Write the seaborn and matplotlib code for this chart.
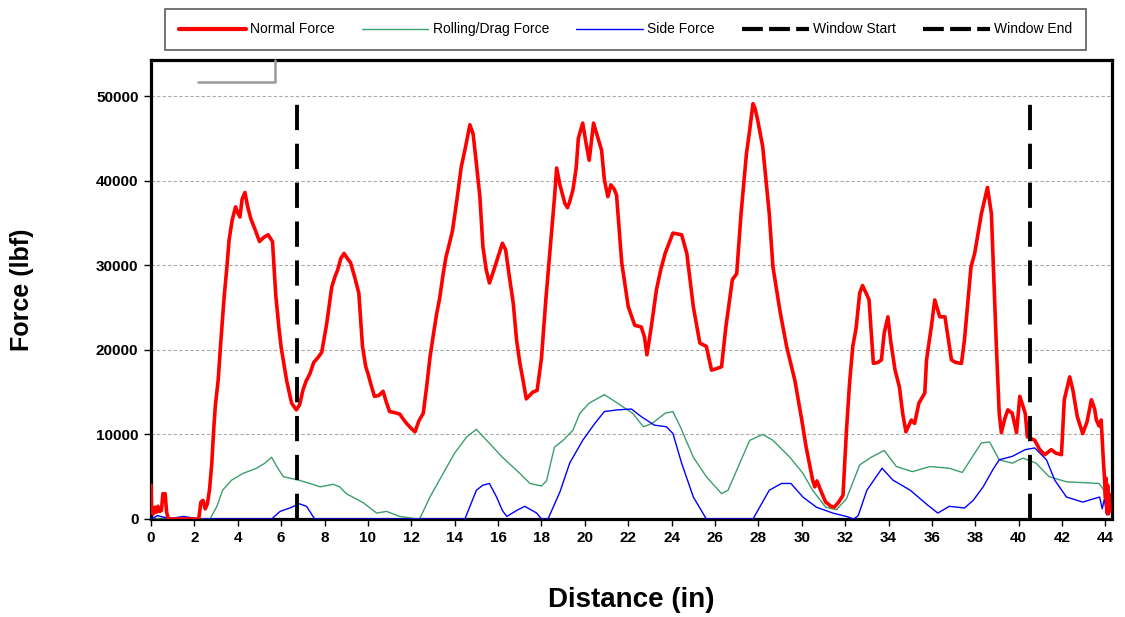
import matplotlib
matplotlib.use("Agg")
import matplotlib.pyplot as plt
import seaborn as sns
import pandas as pd
from matplotlib.lines import Line2D

# ---------------- data ----------------
normal_x = [0.0, 0.03, 0.1, 0.18, 0.25, 0.32, 0.4, 0.48, 0.55, 0.6, 0.65, 0.72, 0.8, 2.2, 2.3, 2.4, 2.5, 2.6,
            2.7, 2.8, 2.9, 2.97, 3.1, 3.2, 3.37, 3.5, 3.6, 3.74, 3.9, 4.0, 4.1, 4.2, 4.33, 4.45, 4.6, 4.8,
            5.0, 5.2, 5.4, 5.6, 5.75, 5.9, 6.0, 6.25, 6.48, 6.7, 6.85, 7.0, 7.15, 7.33, 7.5, 7.7, 7.87,
            8.1, 8.33, 8.5, 8.6, 8.75, 8.9, 9.05, 9.2, 9.4, 9.58, 9.75, 9.9, 10.0, 10.15, 10.3, 10.5,
            10.7, 10.85, 11.0, 11.2, 11.47, 11.6, 11.78, 12.0, 12.17, 12.35, 12.55, 12.7, 12.86, 13.0,
            13.17, 13.3, 13.47, 13.6, 13.75, 13.9, 14.1, 14.3, 14.5, 14.7, 14.85, 15.0, 15.16, 15.3,
            15.45, 15.6, 15.75, 15.85, 16.0, 16.2, 16.35, 16.5, 16.7, 16.85, 17.0, 17.15, 17.3, 17.45,
            17.6, 17.8, 18.0, 18.2, 18.46, 18.6, 18.7, 18.85, 19.08, 19.2, 19.3, 19.45, 19.6, 19.7,
            19.9, 20.05, 20.2, 20.4, 20.55, 20.77, 20.9, 21.06, 21.2, 21.35, 21.46, 21.7, 22.0, 22.3,
            22.6, 22.75, 22.86, 23.05, 23.3, 23.5, 23.7, 24.06, 24.46, 24.7, 25.0, 25.3, 25.6, 25.84,
            26.1, 26.3, 26.5, 26.8, 27.0, 27.2, 27.45, 27.6, 27.75, 27.85, 27.97, 28.2, 28.35, 28.5,
            28.67, 29.0, 29.3, 29.68, 30.0, 30.2, 30.5, 30.6, 30.7, 30.9, 31.1, 31.35, 31.5, 31.7,
            31.9, 32.06, 32.2, 32.35, 32.5, 32.67, 32.8, 33.0, 33.1, 33.3, 33.5, 33.67, 33.8, 33.97,
            34.1, 34.3, 34.5, 34.65, 34.8, 35.05, 35.2, 35.4, 35.67, 35.75, 35.97, 36.13, 36.36, 36.6,
            36.9, 37.1, 37.36, 37.5, 37.8, 37.97, 38.28, 38.56, 38.74, 38.97, 39.1, 39.2, 39.35, 39.5,
            39.7, 39.9, 40.05, 40.3, 40.4, 40.74, 40.97, 41.2, 41.5, 41.7, 41.97, 42.1, 42.35, 42.5,
            42.7, 42.95, 43.15, 43.35, 43.5, 43.58, 43.7, 43.8, 43.9, 43.95, 44.0, 44.03, 44.06, 44.1,
            44.13, 44.16, 44.2]
normal_y = [4000, 1200, 600, 1400, 800, 1500, 900, 1000, 3000, 2600, 3000, 800, 0, 0, 2000, 2200, 1200, 1800,
            3500, 6500, 11000, 13500, 16500, 20300, 26200, 29800, 33000, 35300, 36900, 36200, 35700, 37800,
            38600, 37000, 35500, 34200, 32800, 33300, 33600, 32800, 26500, 22500, 20300, 16400, 13700,
            12900, 13500, 15200, 16300, 17200, 18500, 19100, 19700, 23100, 27400, 28800, 29400, 30800,
            31400, 30800, 30300, 28500, 26700, 20400, 18000, 17200, 15800, 14500, 14600, 15100, 13800,
            12700, 12600, 12400, 11900, 11300, 10700, 10300, 11600, 12500, 15500, 19100, 21500, 24300,
            26000, 29000, 31000, 32500, 34100, 37700, 41600, 44000, 46600, 45500, 42000, 38100, 32200,
            29500, 27900, 29000, 29800, 31000, 32600, 31800, 29000, 25500, 21200, 18500, 16400, 14200,
            14600, 15000, 15200, 19000, 25900, 33800, 38000, 41500, 39500, 37300, 36800, 37500, 38900,
            41500, 45000, 46800, 44500, 42400, 46800, 45500, 43600, 40100, 38100, 39500, 39000, 38300,
            30300, 25100, 22900, 22700, 21500, 19400, 22500, 27100, 29500, 31400, 33800, 33600, 31400,
            25100, 20800, 20400, 17600, 17800, 18000, 22700, 28300, 29000, 36100, 43200, 46000, 49100,
            48500, 47100, 44000, 40000, 36100, 29800, 24500, 20400, 16400, 11700, 8500, 4600, 3800, 4500,
            3200, 2000, 1500, 1400, 2000, 2800, 10500, 16000, 20400, 22500, 26700, 27600, 26500, 25900,
            18400, 18500, 18800, 22000, 23900, 21000, 17600, 15600, 12500, 10300, 11700, 11300, 13700,
            14900, 18800, 22700, 25900, 23900, 23900, 18800, 18500, 18400, 21200, 29800, 31400, 36100,
            39200, 36100, 20400, 12500, 10200, 11800, 12900, 12500, 10200, 14500, 12500, 9700, 9300, 8200,
            7600, 8200, 7800, 7600, 14100, 16800, 15200, 12100, 10100, 11500, 14100, 13000, 11700, 11000,
            11700, 7000, 5000, 2500, 4800, 800, 4000, 600, 3000, 1000]

drag_x = [0.0, 2.72, 3.03, 3.3, 3.72, 4.25, 4.87, 5.25, 5.56, 5.8, 6.1, 6.8, 7.33, 7.8, 8.4, 8.7, 9.0, 9.8,
          10.4, 10.86, 11.47, 12.3, 12.4, 12.86, 13.47, 14.0, 14.55, 15.0, 15.47, 16.2, 17.0, 17.47, 18.0,
          18.23, 18.6, 19.0, 19.45, 19.77, 20.2, 20.9, 21.5, 22.2, 22.7, 23.1, 23.7, 24.06, 24.4, 25.0,
          25.6, 26.3, 26.6, 27.14, 27.6, 28.2, 28.67, 29.45, 30.05, 30.5, 31.1, 31.6, 32.06, 32.67, 33.2,
          33.8, 34.36, 35.1, 35.9, 36.8, 37.4, 37.8, 38.28, 38.66, 39.1, 39.7, 40.2, 40.8, 41.4, 42.2,
          42.95, 43.7, 43.9, 44.05, 44.2]
drag_y = [0, 0, 1450, 3400, 4600, 5400, 6000, 6600, 7300, 6200, 5000, 4600, 4200, 3800, 4100, 3800, 3000,
          1900, 700, 900, 300, 0, 100, 2600, 5400, 7800, 9700, 10600, 9300, 7300, 5400, 4200, 3900, 4500,
          8500, 9300, 10500, 12500, 13700, 14700, 13700, 12500, 10900, 11300, 12500, 12700, 10900, 7300,
          5000, 3000, 3400, 6600, 9300, 10000, 9300, 7300, 5400, 3400, 1400, 1100, 2400, 6400, 7300, 8100,
          6200, 5600, 6200, 6000, 5500, 7100, 9000, 9100, 7000, 6600, 7200, 6600, 5000, 4400, 4300, 4200,
          3500, 2000, 2300]

side_x = [0.0, 0.3, 0.6, 1.0, 1.5, 2.0, 2.2, 5.56, 5.95, 6.4, 6.83, 7.17, 7.47, 7.55, 14.47, 15.0, 15.3,
          15.6, 15.93, 16.2, 16.4, 16.85, 17.23, 17.78, 18.0, 18.3, 18.85, 19.3, 19.9, 20.46, 20.9, 21.5,
          22.15, 22.6, 23.2, 23.76, 24.06, 24.46, 25.0, 25.6, 27.75, 28.5, 29.06, 29.5, 30.05, 30.67,
          31.43, 32.06, 32.4, 32.6, 33.0, 33.7, 34.2, 35.0, 35.8, 36.27, 36.8, 37.5, 37.9, 38.36, 38.8,
          39.1, 39.7, 40.3, 40.74, 41.28, 41.66, 42.2, 42.95, 43.73, 43.85, 43.95, 44.05, 44.15, 44.2]
side_y = [0, 400, 200, 100, 300, 100, 0, 0, 900, 1300, 1800, 1500, 300, 0, 0, 3400, 4000, 4200, 2600, 1000,
          300, 1000, 1500, 700, 0, 0, 3200, 6600, 9300, 11300, 12700, 12900, 13000, 12100, 11100, 10900,
          10100, 6600, 2600, 0, 0, 3400, 4200, 4200, 2600, 1400, 700, 300, 0, 400, 3400, 6000, 4600, 3400,
          1650, 700, 1500, 1300, 2200, 3800, 5800, 7000, 7400, 8200, 8400, 7000, 4600, 2600, 2000, 2600,
          1200, 2400, 500, 1800, 800]

window_start = 6.75
window_end = 40.5
window_top = 49500

x_ticks = list(range(0, 45, 2))
y_ticks = [0, 10000, 20000, 30000, 40000, 50000]

series_names = ["Normal Force", "Rolling/Drag Force", "Side Force", "Window Start", "Window End"]

# ---------------- style ----------------
sns.set_theme(style="white")
plt.rcParams["font.family"] = ["Liberation Sans", "DejaVu Sans"]
plt.rcParams["text.color"] = "black"
plt.rcParams["axes.labelcolor"] = "black"
plt.rcParams["xtick.color"] = "black"
plt.rcParams["ytick.color"] = "black"

fig = plt.figure(figsize=(11.25, 6.17), dpi=100)
ax = fig.add_axes([151 / 1125, 1 - 519 / 617, (1112 - 151) / 1125, (519 - 60) / 617])

red = "#ff0000"
green = "#3d9e6c"
blue = "#0000ff"

df_n = pd.DataFrame({"x": normal_x, "y": normal_y})
df_d = pd.DataFrame({"x": drag_x, "y": drag_y})
df_s = pd.DataFrame({"x": side_x, "y": side_y})

sns.lineplot(data=df_d, x="x", y="y", ax=ax, color=green, lw=1.0, sort=False, zorder=3)
sns.lineplot(data=df_s, x="x", y="y", ax=ax, color=blue, lw=1.0, sort=False, zorder=3)
sns.lineplot(data=df_n, x="x", y="y", ax=ax, color=red, lw=2.6, sort=False, zorder=4)

for wx in (window_start, window_end):
    ax.plot([wx, wx], [0, window_top], color="black", lw=2.8, dashes=(6.5, 3.5), zorder=5)

ax.set_xlim(0, 44.3)
ax.set_ylim(0, 54260)
ax.set_xticks(x_ticks)
ax.set_yticks(y_ticks)
ax.set_xticklabels([str(t) for t in x_ticks], fontsize=11, fontweight="bold", color="black")
ax.set_yticklabels([str(t) for t in y_ticks], fontsize=11, fontweight="bold", color="black")
ax.tick_params(axis="both", direction="out", length=5, width=1.0, color="black", pad=4, bottom=True, left=True)
ax.yaxis.grid(True, color="#aaaaaa", lw=0.8, ls=(0, (3, 2)))
ax.xaxis.grid(False)
for sp in ax.spines.values():
    sp.set_color("black")
    sp.set_linewidth(2.3)

ax.set_xlabel("Distance (in)", fontsize=20, fontweight="bold", color="black")
ax.set_ylabel("Force (lbf)", fontsize=18, fontweight="bold", color="black")
ax.xaxis.set_label_coords(0.5, (519 - 600) / 459)
ax.yaxis.set_label_coords((22 - 151) / 961, 0.5)
ax.xaxis.label.set_va("center")
ax.yaxis.label.set_va("center")

# little grey box remnant at top-left
ax.plot([0.049, 0.129, 0.129], [0.952, 0.952, 1.0], transform=ax.transAxes,
        color="#999999", lw=1.8, zorder=6, clip_on=False)

handles = [
    Line2D([], [], color=red, lw=3),
    Line2D([], [], color=green, lw=1.0),
    Line2D([], [], color=blue, lw=1.0),
    Line2D([], [], color="black", lw=3, dashes=(5, 1.5)),
    Line2D([], [], color="black", lw=3, dashes=(5, 1.5)),
]
leg = fig.legend(handles, series_names, loc="center", ncol=5, mode="expand",
                 bbox_to_anchor=(158 / 1125, 1 - 52 / 617, (1093 - 158) / 1125, 45 / 617),
                 frameon=True, fancybox=False, edgecolor="#333333", handlelength=4.8,
                 handletextpad=0.3, borderpad=1.0, prop={"size": 10})
leg.get_frame().set_linewidth(1.2)
for t in leg.get_texts():
    t.set_color("black")

fig.savefig("out.png", dpi=100)
